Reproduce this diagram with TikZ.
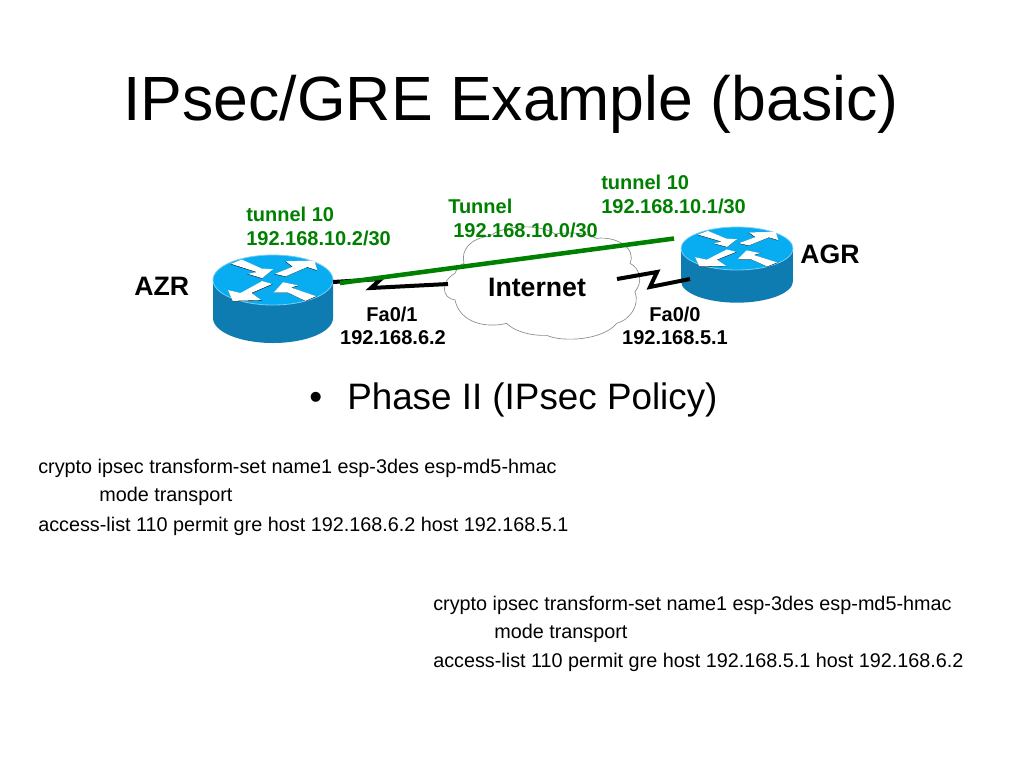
\documentclass[tikz,border=0pt]{standalone}
\usepackage{fontspec}
\setmainfont{Liberation Sans}
\definecolor{tunnelgreen}{RGB}{0,128,0}
\definecolor{routertop}{RGB}{8,172,240}
\definecolor{routerside}{RGB}{14,124,176}
\definecolor{routerrim}{RGB}{120,205,245}
\definecolor{cloudline}{RGB}{140,140,140}
\newcommand{\sized}[1]{\fontsize{#1}{#1}\selectfont}
\tikzset{
  x=0.75pt, y=-0.75pt,
  txt/.style={inner sep=0pt, anchor=base west},
  title/.style={txt, anchor=base, font=\sized{46.9}},
  bullet/.style={txt, font=\sized{27.6}},
  config/.style={txt, font=\sized{14.85}},
  iface/.style={txt, anchor=base, font=\bfseries\sized{15}},
  tunnellabel/.style={txt, text=tunnelgreen, font=\bfseries\sized{15}},
  hostname/.style={txt, font=\bfseries\sized{20}},
  serial/.style={draw=black, line width=3pt, miter limit=10},
  tunnel/.style={draw=tunnelgreen, line width=3.4pt},
  cloudedge/.style={draw=cloudline, fill=white, line width=0.5pt},
  routerbox/.style={inner sep=0pt, minimum width=90pt, minimum height=66pt},
  router/.pic={
    \fill[routerside] (-60,0) -- (-60,38) arc[start angle=180, end angle=0, x radius=60, y radius=25] -- (60,0) -- cycle;
    \fill[routertop, draw=routerrim, line width=0.6pt] (0,0) ellipse[x radius=60, y radius=25];
    \begin{scope}[xscale=0.36, yscale=0.36, shift={(-220,-122)}]
      \foreach \off/\col in {1/black, 0/white}{
        \fill[\col, shift={(-\off,\off)}] (103,77) -- (133,65) -- (188,90) -- (220,92) -- (190,117) -- (150,105) -- (175,100) -- cycle;
        \fill[\col, shift={(-\off,\off)}] (225,105) -- (275,85) -- (255,70) -- (335,68) -- (343,95) -- (315,86) -- (255,112) -- cycle;
        \fill[\col, shift={(\off,\off)}] (190,125) -- (218,133) -- (160,158) -- (188,178) -- (108,180) -- (95,150) -- (130,158) -- cycle;
        \fill[\col, shift={(\off,\off)}] (340,167) -- (310,180) -- (262,157) -- (222,157) -- (248,128) -- (290,137) -- (270,143) -- cycle;
      }
    \end{scope}
  }
}
\begin{document}
\begin{tikzpicture}
  \useasboundingbox (0,0) rectangle (1024,768);
  \node[title] (heading) at (511,120) {IPsec/GRE Example (basic)};

  % cloud
  \begin{scope}[shift={(440,210)}, xscale=1/3, yscale=1/3]
    \path[cloudedge] (72,160) .. controls (62,120) and (90,85) .. (150,78)
      .. controls (190,45) and (300,40) .. (345,72)
      .. controls (400,65) and (440,70) .. (470,85)
      .. controls (530,78) and (590,115) .. (570,160)
      .. controls (600,175) and (610,215) .. (585,245)
      .. controls (600,285) and (570,330) .. (530,340)
      .. controls (490,390) and (370,398) .. (320,376)
      .. controls (270,378) and (220,362) .. (200,340)
      .. controls (140,355) and (60,340) .. (45,270)
      .. controls (5,265) and (0,215) .. (45,190)
      .. controls (50,175) and (60,165) .. (72,160) -- cycle;
  \end{scope}
  \node[hostname, anchor=base] (internet) at (537,296) {Internet};

  % routers
  \node[routerbox] (azr) at (273,299) {};
  \node[routerbox, minimum width=84pt, minimum height=58pt] (agr) at (737,265) {};
  \pic at (273,280) {router};
  \pic[xscale=0.933, yscale=0.86] at (737,248.5) {router};
  \node[hostname] (azrname) at (134,295) {AZR};
  \node[hostname] (agrname) at (800,263) {AGR};

  % links
  \coordinate (azrport) at (333,282);
  \coordinate (azrzigA) at (381,279);
  \coordinate (azrzigB) at (371,288);
  \coordinate (inetwest) at (448,284);
  \coordinate (inneteast) at (617,279);
  \coordinate (agrzigA) at (657,272);
  \coordinate (agrzigB) at (650,287);
  \coordinate (agrport) at (690,279);
  \coordinate (tunnelwest) at (340,283);
  \coordinate (tunneleast) at (674,238.5);
  \path[serial] (azrport) -- (azrzigA) -- (azrzigB) -- (inetwest);
  \path[serial] (inneteast) -- (agrzigA) -- (agrzigB) -- (agrport);
  \path[tunnel] (tunnelwest) -- (tunneleast);

  % labels
  \node[tunnellabel] (azrtun) at (246,221) {tunnel 10};
  \node[tunnellabel] (azrtunip) at (246,245) {192.168.10.2/30};
  \node[tunnellabel] (agrtun) at (601,189) {tunnel 10};
  \node[tunnellabel] (agrtunip) at (601,213) {192.168.10.1/30};
  \node[tunnellabel] (tunname) at (448,213) {Tunnel};
  \node[tunnellabel] (tunnet) at (453,237) {192.168.10.0/30};
  \node[iface] (azrfa) at (392,321) {Fa0/1};
  \node[iface] (azrfaip) at (393,344) {192.168.6.2};
  \node[iface] (agrfa) at (675,321) {Fa0/0};
  \node[iface] (agrfaip) at (675,344) {192.168.5.1};

  \node[bullet] (dot) at (309,409) {•};
  \node[bullet] (phase) at (347,409) {Phase II (IPsec Policy)};

  \node[config] (azrA) at (38,473) {crypto ipsec transform-set name1 esp-3des esp-md5-hmac};
  \node[config] (azrB) at (99,501) {mode transport};
  \node[config] (azrC) at (38,531) {access-list 110 permit gre host 192.168.6.2 host 192.168.5.1};
  \node[config] (agrA) at (433,610) {crypto ipsec transform-set name1 esp-3des esp-md5-hmac};
  \node[config] (agrB) at (494,638) {mode transport};
  \node[config] (agrC) at (433,667) {access-list 110 permit gre host 192.168.5.1 host 192.168.6.2};
\end{tikzpicture}
\end{document}
